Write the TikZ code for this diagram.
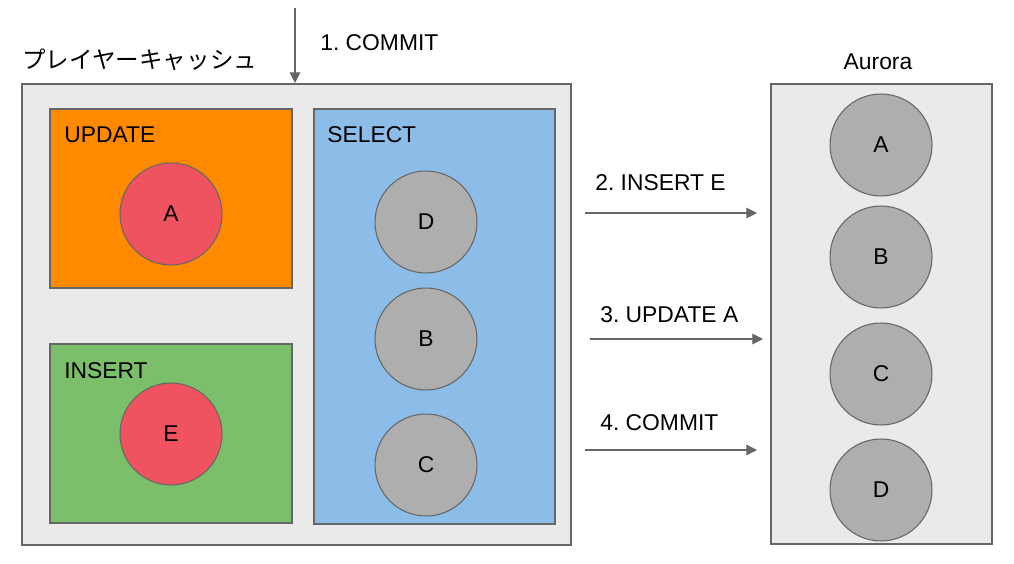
\documentclass[tikz,border=0pt]{standalone}
\usepackage{fontspec}
\setmainfont{Liberation Sans}
\newfontfamily\jpfont{Noto Sans CJK JP}
\usetikzlibrary{arrows.meta}
\frenchspacing

\definecolor{boxgray}{HTML}{EAEAEA}
\definecolor{linegray}{HTML}{666666}
\definecolor{rowgray}{HTML}{AEAEAE}
\definecolor{updorange}{HTML}{FF8A00}
\definecolor{insgreen}{HTML}{7BBF6A}
\definecolor{selblue}{HTML}{8CBDE8}
\definecolor{rowred}{HTML}{EF5360}

\tikzset{
  box/.style={draw=linegray, line width=0.7pt, inner sep=0pt},
  row/.style={circle, draw=linegray, line width=0.6pt, fill=rowgray, minimum size=2.04cm, inner sep=0pt, font=\fontsize{13}{15}\selectfont},
  dirty/.style={row, fill=rowred},
  lbl/.style={font=\fontsize{13}{15}\selectfont, inner sep=0pt},
  flow/.style={draw=linegray, line width=0.6pt, -{Triangle[length=6pt,width=6pt]}}
}

\begin{document}
\begin{tikzpicture}[x=0.02cm, y=-0.02cm]
\useasboundingbox (0,0) rectangle (1014,564);

% player cache
\node[box, fill=boxgray, minimum width=10.98cm, minimum height=9.22cm] (cache) at (296.5,314.5) {};
\node[lbl, anchor=west] (cachename) at (22,60) {\jpfont\fontsize{13.4}{15}\selectfont プレイヤーキャッシュ};

\node[box, fill=updorange, minimum width=4.84cm, minimum height=3.58cm] (upd) at (171,198.5) {};
\node[box, fill=insgreen, minimum width=4.84cm, minimum height=3.58cm] (ins) at (171,433.5) {};
\node[box, fill=selblue, minimum width=4.82cm, minimum height=8.3cm] (sel) at (434.5,316.5) {};

\node[lbl, anchor=west] (updname) at (64,135) {UPDATE};
\node[lbl, anchor=west] (insname) at (64,371) {INSERT};
\node[lbl, anchor=west] (selname) at (327,135) {SELECT};

\node[dirty] (a1) at (171,214) {A};
\node[dirty] (e1) at (171,434) {E};
\node[row] (d1) at (426,222) {D};
\node[row] (b1) at (426,339) {B};
\node[row] (c1) at (426,465) {C};

% aurora
\node[box, fill=boxgray, minimum width=4.42cm, minimum height=9.2cm] (aurora) at (881.5,314) {};
\node[lbl] (auroraname) at (878,62) {Aurora};

\node[row] (a2) at (881,145) {A};
\node[row] (b2) at (881,257) {B};
\node[row] (c2) at (881,374) {C};
\node[row] (d2) at (881,490) {D};

% steps
\coordinate (s1) at (295,8);
\coordinate (t1) at (295,83);
\draw[flow] (s1) -- (t1);
\node[lbl, anchor=west] (step1) at (320,43) {1. COMMIT};

\coordinate (s2) at (585,213);
\coordinate (t2) at (757,213);
\draw[flow] (s2) -- (t2);
\node[lbl, anchor=west] (step2) at (595,183) {2. INSERT E};

\coordinate (s3) at (590,339);
\coordinate (t3) at (763,339);
\draw[flow] (s3) -- (t3);
\node[lbl, anchor=west] (step3) at (600,315) {3. UPDATE A};

\coordinate (s4) at (585,450);
\coordinate (t4) at (757,450);
\draw[flow] (s4) -- (t4);
\node[lbl, anchor=west] (step4) at (600,423) {4. COMMIT};
\end{tikzpicture}
\end{document}
